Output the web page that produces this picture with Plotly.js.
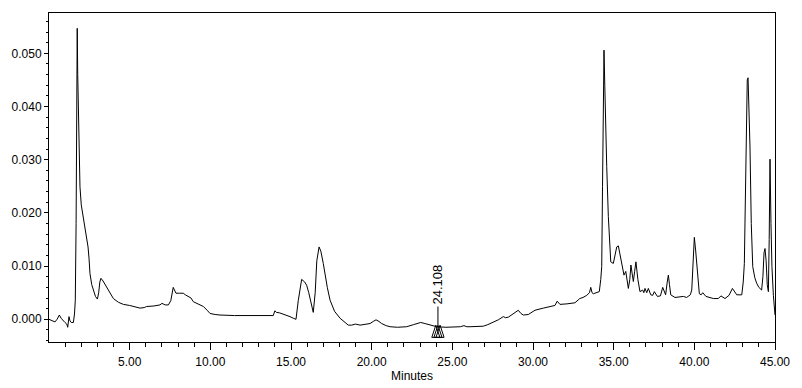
<!DOCTYPE html>
<html>
<head>
<meta charset="utf-8">
<script src="https://cdn.plot.ly/plotly-3.0.1.min.js"></script>
<style>html,body{margin:0;padding:0;background:#fff;}#chart{width:802px;height:388px;}</style>
</head>
<body>
<div id="chart"></div>
<script>
// Retention time (minutes)
var minutes = [
0,0.2,0.37,0.5,0.64,0.75,0.85,0.99,1.1,1.16,1.24,1.3,1.38,1.51,1.58,1.63,1.68,1.72,1.75,1.78,1.84,1.92,2.0,2.09,2.2,2.29,2.42,2.48,2.54,2.65,2.75,2.88,3.0,3.08,3.15,3.22,3.35,3.57,3.8,3.99,4.3,4.61,5.0,5.3,5.64,5.9,6.05,6.5,6.88,7.0,7.2,7.4,7.55,7.7,7.8,7.87,8.1,8.32,8.45,8.64,8.8,8.95,9.2,9.57,9.8,9.98,10.3,10.6,11.5,12.5,13.5,13.9,14.0,14.1,14.3,14.6,14.94,15.14,15.31,15.45,15.66,15.85,15.97,16.1,16.25,16.38,16.5,16.6,16.74,16.85,17.0,17.1,17.25,17.42,17.7,18.04,18.3,18.55,18.76,19.0,19.28,19.6,19.9,20.1,20.27,20.45,20.62,20.9,21.14,21.6,22.17,22.6,23.04,23.3,23.62,24.03,24.6,25.27,25.5,25.72,25.9,26.1,26.5,26.92,27.2,27.54,27.85,28.16,28.3,28.47,28.78,28.9,29.09,29.25,29.4,29.71,29.9,30.12,30.64,31.0,31.36,31.5,31.67,32.1,32.6,32.9,33.1,33.33,33.5,33.58,33.66,33.74,33.9,34.11,34.2,34.26,34.31,34.36,34.4,34.45,34.5,34.57,34.67,34.75,34.82,34.98,35.1,35.19,35.29,35.4,35.5,35.64,35.75,35.83,35.91,36.0,36.07,36.15,36.22,36.3,36.38,36.5,36.63,36.8,36.87,36.94,37.05,37.15,37.3,37.42,37.52,37.71,37.9,38.04,38.15,38.22,38.32,38.39,38.46,38.54,38.8,39.1,39.32,39.52,39.75,39.84,39.92,40.0,40.08,40.15,40.24,40.31,40.42,40.52,40.72,41.0,41.18,41.49,41.65,41.9,42.15,42.36,42.5,42.63,42.94,43.03,43.1,43.2,43.28,43.33,43.38,43.45,43.53,43.62,43.75,43.86,44.0,44.17,44.25,44.32,44.38,44.45,44.52,44.59,44.64,44.69,44.75,44.81,44.9,45.0
];
// Detector response (AU)
var response = [
0.0000,-0.0002,-0.0005,0.0000,0.0008,0.0002,-0.0002,-0.0006,-0.0009,-0.0015,0.0005,-0.0003,-0.0006,-0.0006,0.0010,0.0036,0.0180,0.0400,0.0547,0.0460,0.0350,0.0249,0.0215,0.0199,0.0180,0.0162,0.0136,0.0115,0.0086,0.0065,0.0055,0.0043,0.0038,0.0050,0.0070,0.0077,0.0072,0.0061,0.0048,0.0039,0.0032,0.0028,0.0026,0.0023,0.0021,0.0022,0.0024,0.0025,0.0027,0.0030,0.0027,0.0027,0.0035,0.0060,0.0052,0.0049,0.0049,0.0049,0.0046,0.0043,0.0040,0.0033,0.0029,0.0024,0.0017,0.0011,0.0009,0.0008,0.0007,0.0007,0.0008,0.0007,0.0016,0.0013,0.0012,0.0009,0.0005,0.0002,0.0000,0.0035,0.0075,0.0070,0.0064,0.0050,0.0028,0.0013,0.0050,0.0110,0.0136,0.0128,0.0105,0.0086,0.0060,0.0036,0.0015,0.0002,-0.0005,-0.0011,-0.0011,-0.0009,-0.0011,-0.0009,-0.0008,-0.0004,-0.0001,-0.0004,-0.0008,-0.0012,-0.0014,-0.0015,-0.0014,-0.0010,-0.0006,-0.0008,-0.0011,-0.0014,-0.0015,-0.0015,-0.0014,-0.0012,-0.0014,-0.0014,-0.0013,-0.0013,-0.0010,-0.0006,-0.0001,0.0005,0.0003,0.0004,0.0011,0.0012,0.0017,0.0011,0.0008,0.0009,0.0013,0.0017,0.0021,0.0023,0.0026,0.0034,0.0028,0.0029,0.0031,0.0039,0.0041,0.0045,0.0050,0.0060,0.0050,0.0048,0.0050,0.0052,0.0075,0.0099,0.0250,0.0470,0.0506,0.0440,0.0360,0.0287,0.0193,0.0135,0.0108,0.0105,0.0125,0.0136,0.0138,0.0122,0.0105,0.0083,0.0090,0.0072,0.0058,0.0075,0.0102,0.0085,0.0071,0.0090,0.0108,0.0075,0.0052,0.0055,0.0050,0.0058,0.0050,0.0058,0.0046,0.0045,0.0052,0.0043,0.0044,0.0060,0.0050,0.0046,0.0070,0.0083,0.0065,0.0046,0.0041,0.0042,0.0043,0.0041,0.0046,0.0055,0.0110,0.0154,0.0130,0.0099,0.0060,0.0048,0.0046,0.0050,0.0043,0.0040,0.0039,0.0039,0.0044,0.0039,0.0045,0.0058,0.0052,0.0046,0.0046,0.0070,0.0105,0.0320,0.0450,0.0454,0.0410,0.0324,0.0180,0.0099,0.0078,0.0068,0.0060,0.0055,0.0080,0.0125,0.0133,0.0110,0.0065,0.0052,0.0150,0.0301,0.0180,0.0099,0.0045,0.0008
];
var xTickVals = [5,10,15,20,25,30,35,40,45];
var xTickText = ["5.00","10.00","15.00","20.00","25.00","30.00","35.00","40.00","45.00"];
var yTickVals = [0,0.01,0.02,0.03,0.04,0.05];
var yTickText = ["0.000","0.010","0.020","0.030","0.040","0.050"];
var peakTime = 24.108;
var peakLabel = "24.108";

var xMinor = []; for (var i = 1; i < 45; i++) xMinor.push(i);
var yMinor = []; for (var j = -2; j <= 28; j++) yMinor.push(+(j * 0.002).toFixed(3));

// marker geometry (offsets in axis units around the labelled peak)
var triW = 0.25, triTop = -0.0011, triBot = -0.0034;
function tri(cx) {
  return 'M ' + (cx - triW) + ' ' + triBot + ' L ' + cx + ' ' + triTop + ' L ' + (cx + triW) + ' ' + triBot + ' Z';
}
var shapes = [
  {type:'line', xref:'x', yref:'y', x0:peakTime, x1:peakTime, y0:triTop, y1:0.0024, line:{color:'#000', width:1}},
  {type:'path', xref:'x', yref:'y', path:tri(peakTime - 0.13), line:{color:'#000', width:1}},
  {type:'path', xref:'x', yref:'y', path:tri(peakTime), line:{color:'#000', width:1}},
  {type:'path', xref:'x', yref:'y', path:tri(peakTime + 0.13), line:{color:'#000', width:1}}
];

var font = {family:'"Liberation Sans", Arial, sans-serif', size:12, color:'#000'};

Plotly.newPlot('chart', [{
  x: minutes, y: response, type:'scatter', mode:'lines',
  line:{color:'#000', width:1}, hoverinfo:'x+y'
}], {
  width:802, height:388,
  margin:{l:49, r:27, t:13, b:46, pad:0},
  paper_bgcolor:'#fff', plot_bgcolor:'#fff',
  showlegend:false,
  font: font,
  xaxis:{
    range:[0,45], showgrid:false, zeroline:false,
    showline:true, mirror:true, linecolor:'#000', linewidth:1,
    ticks:'outside', ticklen:7, tickcolor:'#000', tickwidth:1,
    tickmode:'array', tickvals:xTickVals, ticktext:xTickText,
    tickfont:font, ticklabelstandoff:2,
    minor:{tickmode:'array', tickvals:xMinor, ticks:'outside', ticklen:4, tickcolor:'#000', showgrid:false},
    title:{text:'Minutes', font:font, standoff:3}
  },
  yaxis:{
    range:[-0.00427,0.05758], showgrid:false, zeroline:false,
    showline:true, mirror:true, linecolor:'#000', linewidth:1,
    ticks:'outside', ticklen:4, tickcolor:'#000', tickwidth:1,
    tickmode:'array', tickvals:yTickVals, ticktext:yTickText,
    tickfont:font,
    minor:{tickmode:'array', tickvals:yMinor, ticks:'outside', ticklen:2, tickcolor:'#000', showgrid:false}
  },
  shapes: shapes,
  annotations:[{
    x:peakTime, y:0.0024, xref:'x', yref:'y', text:peakLabel, textangle:-90,
    showarrow:false, xanchor:'center', yanchor:'bottom', font:{family:font.family, size:13, color:'#000'}
  }]
}, {staticPlot:true, displayModeBar:false});
</script>
</body>
</html>
